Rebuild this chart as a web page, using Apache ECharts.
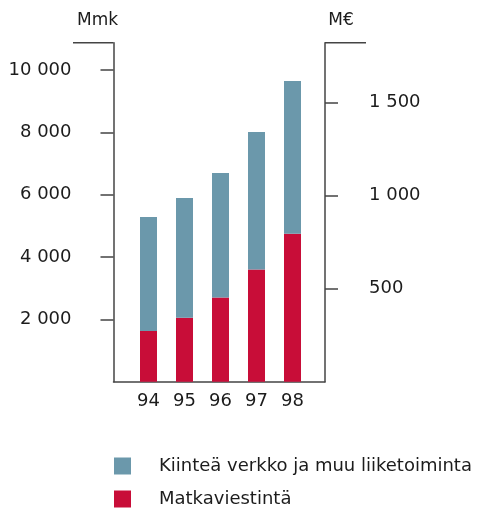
<!DOCTYPE html>
<html>
<head>
<meta charset="utf-8">
<script src="https://cdn.jsdelivr.net/npm/echarts@6/dist/echarts.min.js"></script>
<style>
  html, body { margin: 0; padding: 0; background: #fff; }
  #main { width: 480px; height: 508px; }
</style>
</head>
<body>
<div id="main"></div>
<script>
// 数据 ------------------
var years = ['94', '95', '96', '97', '98'];
var matkaviestinta = [1630, 2055, 2700, 3600, 4750];   // Mmk
var kiintea = [3660, 3840, 4000, 4420, 4900];          // Mmk
var mmkTicks = [2000, 4000, 6000, 8000, 10000];
var eurTicks = [500, 1000, 1500];
var seriesNames = ['Kiinteä verkko ja muu liiketoiminta', 'Matkaviestintä'];

// 布局
var GRID_LEFT = 113.5, GRID_RIGHT = 155, GRID_TOP = 42.7, GRID_BOTTOM = 126.3;
var MMK_MAX = 10883;
var EUR_RATE = 5.98;
var AXIS_COLOR = '#444';
var TEXT_COLOR = '#1c1c1c';
var FONT = 'DejaVu Sans';
var FONT_SIZE = 18;

function fmt(v) {
	return String(v).replace(/\B(?=(\d{3})+(?!\d))/g, ' ');
}

var chart = echarts.init(document.getElementById('main'));

var option = {
	animation: false,
	textStyle: { fontFamily: FONT, color: TEXT_COLOR },
	grid: [
		// 轴用
		{ left: GRID_LEFT, right: GRID_RIGHT, top: GRID_TOP, bottom: GRID_BOTTOM },
		// 柱子用
		{ left: 130.5, width: 180, top: GRID_TOP, bottom: GRID_BOTTOM }
	],
	xAxis: [
		{
			gridIndex: 0, type: 'value', min: 0, max: 1,
			axisLine: { show: true, lineStyle: { color: AXIS_COLOR, width: 1.5 } },
			axisTick: { show: false }, axisLabel: { show: false }, splitLine: { show: false }
		},
		{
			gridIndex: 1, type: 'category', data: years,
			axisLine: { show: false }, axisTick: { show: false },
			axisLabel: { margin: 11, fontSize: FONT_SIZE, fontFamily: FONT, color: TEXT_COLOR }
		}
	],
	yAxis: [
		{
			gridIndex: 0, type: 'value', position: 'left', min: 0, max: MMK_MAX,
			name: 'Mmk', nameLocation: 'end', nameGap: 14,
			nameTextStyle: { fontSize: 17, fontFamily: FONT, color: TEXT_COLOR, padding: [0, 32, 0, 0] },
			axisLine: { show: true, lineStyle: { color: AXIS_COLOR, width: 1.5 } },
			axisTick: { show: true, length: 13, customValues: mmkTicks, lineStyle: { color: AXIS_COLOR, width: 1.5 } },
			axisLabel: { margin: 42, fontSize: FONT_SIZE, fontFamily: FONT, color: TEXT_COLOR, customValues: mmkTicks, formatter: fmt },
			splitLine: { show: false }
		},
		{
			gridIndex: 0, type: 'value', position: 'right', min: 0, max: MMK_MAX / EUR_RATE,
			name: 'M€', nameLocation: 'end', nameGap: 14,
			nameTextStyle: { fontSize: 17, fontFamily: FONT, color: TEXT_COLOR, padding: [0, 0, 0, 32] },
			axisLine: { show: true, lineStyle: { color: AXIS_COLOR, width: 1.5 } },
			axisTick: { show: true, length: 13, customValues: eurTicks, lineStyle: { color: AXIS_COLOR, width: 1.5 } },
			axisLabel: { margin: 44, fontSize: FONT_SIZE, fontFamily: FONT, color: TEXT_COLOR, customValues: eurTicks, formatter: fmt },
			splitLine: { show: false }
		},
		{
			gridIndex: 1, type: 'value', min: 0, max: MMK_MAX, show: false
		}
	],
	legend: {
		orient: 'vertical', left: 114, top: 457, height: 60, padding: 0,
		data: seriesNames,
		icon: 'rect', itemWidth: 17, itemHeight: 17, itemGap: 15,
		textStyle: { fontSize: 18, fontFamily: FONT, color: TEXT_COLOR, padding: [0, 0, 0, 23], lineHeight: 17 }
	},
	graphic: [
		// 轴顶部横线
		{ type: 'line', shape: { x1: 73, y1: GRID_TOP, x2: GRID_LEFT, y2: GRID_TOP }, style: { stroke: AXIS_COLOR, lineWidth: 1.5 } },
		{ type: 'line', shape: { x1: 480 - GRID_RIGHT, y1: GRID_TOP, x2: 366, y2: GRID_TOP }, style: { stroke: AXIS_COLOR, lineWidth: 1.5 } }
	],
	series: [
		{
			name: seriesNames[1], type: 'bar', stack: 'total',
			xAxisIndex: 1, yAxisIndex: 2, barWidth: 17,
			itemStyle: { color: '#c80d38' },
			data: matkaviestinta
		},
		{
			name: seriesNames[0], type: 'bar', stack: 'total',
			xAxisIndex: 1, yAxisIndex: 2, barWidth: 17,
			itemStyle: { color: '#6b98ab' },
			data: kiintea
		}
	]
};

chart.setOption(option);
</script>
</body>
</html>
